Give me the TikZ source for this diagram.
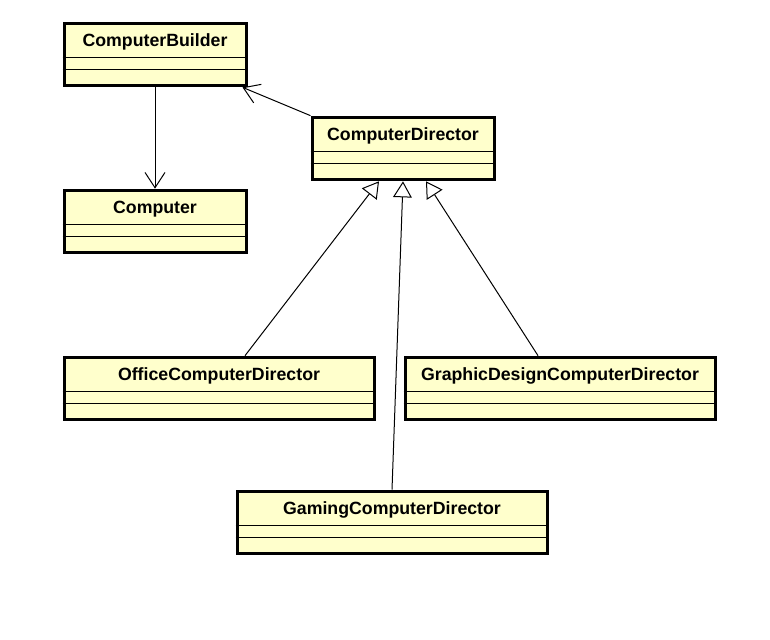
\documentclass[tikz,border=0pt]{standalone}
\usepackage{fontspec}
\setmainfont{Liberation Sans}
\usetikzlibrary{arrows.meta, positioning}
\definecolor{classYellow}{RGB}{255,255,204}
\tikzstyle{umlClass}   = [rectangle,
                          minimum width=136.5pt,
                          minimum height=47pt,
                          draw=black,
                          line width=2.25pt,
                          fill=classYellow]
\tikzstyle{wideClass}  = [umlClass,
                          minimum width=232.5pt]
\tikzstyle{className}  = [font=\bfseries\fontsize{13.3}{15}\selectfont,
                          anchor=base,
                          inner sep=0pt]
\tikzstyle{splitLine}  = [line width=0.75pt]
\tikzstyle{assoc}      = [line width=0.75pt, -{Straight Barb[length=11.5pt, width=15pt]}]
\tikzstyle{inherit}    = [line width=0.75pt, -{Triangle[open, length=12pt, width=14pt, fill=white]}]
\begin{document}
\begin{tikzpicture}[x=0.75pt, y=-0.75pt]
\useasboundingbox (0,0) rectangle (770,639);

\node [umlClass]  (builder)  at (155,54.5)  {};
\node [umlClass]  (computer) at (155,221.5) {};
\node [umlClass]  (director) at (403,148.5) {};

\node [wideClass] (office)   at (219,388.5) {};
\node [wideClass] (graphic)  at (560,388.5) {};
\node [wideClass] (gaming)   at (392,522.5) {};

\foreach \cls/\txt in {builder/ComputerBuilder, computer/Computer,
                       director/ComputerDirector, office/OfficeComputerDirector,
                       graphic/GraphicDesignComputerDirector, gaming/GamingComputerDirector} {
    \node [className] (\cls Name) at ([shift={(0,25)}] \cls.north) {\txt};
    \draw [splitLine] ([shift={(0,36)}] \cls.north west) -- ([shift={(0,36)}] \cls.north east);
    \draw [splitLine] ([shift={(0,48)}] \cls.north west) -- ([shift={(0,48)}] \cls.north east);
}

\draw [assoc] (builder) -- (computer);
\draw [assoc] (director.north west) -- ([shift={(-5,0)}] builder.south east);

\draw [inherit] ([shift={(26,0)}] office.north) -- ([shift={(-24,0)}] director.south);
\draw [inherit] (gaming.north) -- (director.south);
\draw [inherit] ([shift={(-22,0)}] graphic.north) -- ([shift={(23,0)}] director.south);

\end{tikzpicture}
\end{document}
